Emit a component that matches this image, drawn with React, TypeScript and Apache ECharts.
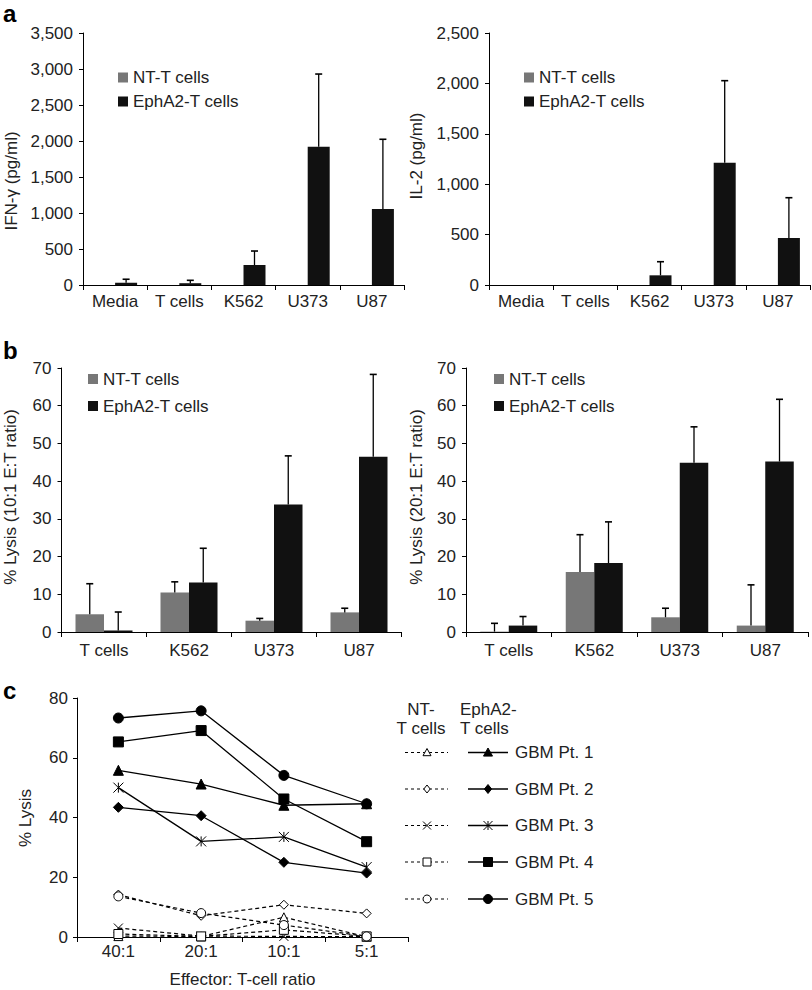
import React, { useEffect, useRef } from 'react';
import * as echarts from 'echarts';

// ---------- Panel a: cytokine release ----------
const cytoCategories = ['Media', 'T cells', 'K562', 'U373', 'U87'];
const ifnNT = [0, 0, 0, 0, 0];
const ifnEph = [32, 25, 278, 1921, 1055];
const ifnEphSD = [48, 40, 194, 1009, 969];
const il2NT = [0, 0, 0, 0, 0];
const il2Eph = [0, 0, 96, 1213, 466];
const il2EphSD = [null, null, 135, 814, 400];

// ---------- Panel b: cytotoxicity ----------
const lysisCategories = ['T cells', 'K562', 'U373', 'U87'];
const lysis10NT = [4.7, 10.5, 3.0, 5.2];
const lysis10NTSD = [8.1, 2.8, 0.6, 1.1];
const lysis10Eph = [0.4, 13.1, 33.8, 46.5];
const lysis10EphSD = [4.9, 9.1, 12.9, 21.8];
const lysis20NT = [0.1, 15.9, 3.9, 1.7];
const lysis20NTSD = [2.2, 9.9, 2.4, 10.8];
const lysis20Eph = [1.7, 18.3, 44.9, 45.2];
const lysis20EphSD = [2.4, 10.9, 9.5, 16.5];

// ---------- Panel c: primary GBM lysis ----------
const ratioCategories = ['40:1', '20:1', '10:1', '5:1'];
const patients = ['GBM Pt. 1', 'GBM Pt. 2', 'GBM Pt. 3', 'GBM Pt. 4', 'GBM Pt. 5'];
const ephPt1 = [55.8, 51.2, 44.1, 44.6];
const ephPt2 = [43.4, 40.6, 25.0, 21.4];
const ephPt3 = [50.0, 32.0, 33.5, 23.4];
const ephPt4 = [65.3, 69.1, 46.2, 31.9];
const ephPt5 = [73.3, 75.7, 54.1, 44.6];
const ntPt1 = [0.3, 0.2, 6.6, 0.1];
const ntPt2 = [14.2, 7.1, 10.8, 7.9];
const ntPt3 = [3.0, 0.3, 0.2, 0.1];
const ntPt4 = [1.0, 0.2, 2.4, 0.2];
const ntPt5 = [13.6, 8.0, 4.0, 0.2];
const ephLysis = [ephPt1, ephPt2, ephPt3, ephPt4, ephPt5];
const ntLysis = [ntPt1, ntPt2, ntPt3, ntPt4, ntPt5];

const FONT = 'Liberation Sans, Arial, sans-serif';
const TXT = '#222';
const NT_COLOR = '#777';
const EPH_COLOR = '#111';

const STAR = 'path://M0,0L10,10M10,0L0,10M5,0L5,10';
const CROSS = 'path://M0,0L10,10M10,0L0,10';
const kinds = ['triangle', 'diamond', 'cross', 'rect', 'circle'];
const ephSymbols = ['triangle', 'diamond', STAR, 'rect', 'circle'];
const ntSymbols = ['triangle', 'diamond', CROSS, 'rect', 'circle'];

function catAxis(gridIndex: number, data: string[], margin: number, extra: any = {}) {
  return {
    type: 'category',
    gridIndex,
    data,
    axisLine: { show: true, lineStyle: { color: '#000', width: 1 } },
    axisTick: { show: true, length: 5, lineStyle: { color: '#000', width: 1 } },
    axisLabel: { color: TXT, fontSize: 17, fontFamily: FONT, margin },
    splitLine: { show: false },
    ...extra,
  };
}

function valAxis(gridIndex: number, max: number, interval: number, margin: number, comma = false) {
  return {
    type: 'value',
    gridIndex,
    min: 0,
    max,
    interval,
    axisLine: { show: true, lineStyle: { color: '#000', width: 1 } },
    axisTick: { show: true, length: 4, lineStyle: { color: '#000', width: 1 } },
    axisLabel: {
      color: TXT,
      fontSize: 17,
      fontFamily: FONT,
      margin,
      formatter: comma ? (v: number) => v.toLocaleString('en-US') : undefined,
    },
    splitLine: { show: false },
  };
}

function barSeries(idx: number, name: string, data: number[], width: number, color: string) {
  return {
    type: 'bar',
    name,
    xAxisIndex: idx,
    yAxisIndex: idx,
    data,
    barWidth: width,
    barGap: '0%',
    itemStyle: { color },
    z: 2,
  };
}

function errSeries(idx: number, values: number[], sds: (number | null)[], offset: number) {
  const data: number[][] = [];
  values.forEach((v, i) => {
    const sd = sds[i];
    if (sd != null) data.push([i, v, v + sd]);
  });
  return {
    type: 'custom',
    name: 'err' + idx + offset,
    xAxisIndex: idx,
    yAxisIndex: idx,
    data,
    encode: { x: 0, y: 1 },
    z: 3,
    renderItem: (params: any, api: any) => {
      const i = api.value(0);
      const p0 = api.coord([i, api.value(1)]);
      const p1 = api.coord([i, api.value(2)]);
      const x = p0[0] + offset;
      return {
        type: 'group',
        children: [
          { type: 'line', shape: { x1: x, y1: p0[1], x2: x, y2: p1[1] }, style: { stroke: '#000', lineWidth: 1.3 } },
          { type: 'line', shape: { x1: x - 3.5, y1: p1[1], x2: x + 3.5, y2: p1[1] }, style: { stroke: '#000', lineWidth: 1.6 } },
        ],
      };
    },
  };
}

function markerShapes(kind: string, cx: number, cy: number, s: number, filled: boolean) {
  const st = { fill: filled ? '#000' : '#fff', stroke: '#000', lineWidth: 1 };
  const h = s / 2;
  const z = 101;
  switch (kind) {
    case 'triangle':
      return [{ type: 'polygon', z, shape: { points: [[cx, cy - h], [cx + h, cy + h * 0.8], [cx - h, cy + h * 0.8]] }, style: st }];
    case 'diamond':
      return [{ type: 'polygon', z, shape: { points: [[cx, cy - h], [cx + h * 0.8, cy], [cx, cy + h], [cx - h * 0.8, cy]] }, style: st }];
    case 'rect':
      return [{ type: 'rect', z, shape: { x: cx - h, y: cy - h, width: s, height: s }, style: st }];
    case 'circle':
      return [{ type: 'circle', z, shape: { cx, cy, r: h }, style: st }];
    default: {
      const ls = { stroke: '#000', lineWidth: 1 };
      const arr: any[] = [
        { type: 'line', z, shape: { x1: cx - h, y1: cy - h, x2: cx + h, y2: cy + h }, style: ls },
        { type: 'line', z, shape: { x1: cx + h, y1: cy - h, x2: cx - h, y2: cy + h }, style: ls },
      ];
      if (filled) arr.push({ type: 'line', z, shape: { x1: cx, y1: cy - h, x2: cx, y2: cy + h }, style: ls });
      return arr;
    }
  }
}

function buildOption() {
  const legendBase = {
    orient: 'vertical',
    icon: 'rect',
    itemWidth: 10,
    itemHeight: 10,
    padding: 0,
    selectedMode: false,
    data: ['NT-T cells', 'EphA2-T cells'],
    textStyle: { fontSize: 17, color: TXT, fontFamily: FONT, lineHeight: 17 },
  };

  const lineSeries: any[] = [];
  patients.forEach((p, k) => {
    lineSeries.push({
      type: 'line',
      name: 'NT ' + p,
      xAxisIndex: 4,
      yAxisIndex: 4,
      data: ntLysis[k],
      symbol: ntSymbols[k],
      symbolSize: 9,
      showAllSymbol: true,
      lineStyle: { color: '#000', width: 1.2, type: [4, 3] },
      itemStyle: { color: '#fff', borderColor: '#000', borderWidth: 1 },
      z: 3,
    });
  });
  patients.forEach((p, k) => {
    lineSeries.push({
      type: 'line',
      name: p,
      xAxisIndex: 4,
      yAxisIndex: 4,
      data: ephLysis[k],
      symbol: ephSymbols[k],
      symbolSize: 10,
      showAllSymbol: true,
      lineStyle: { color: '#000', width: 1.3 },
      itemStyle: { color: '#000', borderColor: '#000', borderWidth: 1 },
      z: 4,
    });
  });

  const rowsY = [752.5, 789, 825.5, 862, 899];
  const legendGraphics: any[] = [];
  patients.forEach((p, k) => {
    const y = rowsY[k];
    legendGraphics.push({ type: 'line', z: 100, shape: { x1: 405, y1: y, x2: 448, y2: y }, style: { stroke: '#000', lineWidth: 1, lineDash: [3, 3] } });
    legendGraphics.push(...markerShapes(kinds[k], 427, y, 8, false));
    legendGraphics.push({ type: 'line', z: 100, shape: { x1: 468, y1: y, x2: 508, y2: y }, style: { stroke: '#000', lineWidth: 1.3 } });
    legendGraphics.push(...markerShapes(kinds[k], 488, y, 9, true));
    legendGraphics.push({ type: 'text', x: 515, y, style: { text: p, fontSize: 17, fontFamily: FONT, fill: TXT, align: 'left', verticalAlign: 'middle' } });
  });

  const t = (text: string, x: number, y: number, extra: any = {}) => ({
    type: 'text',
    x,
    y,
    ...extra,
    style: { text, fontSize: 17, fontFamily: FONT, fill: TXT, align: 'center', verticalAlign: 'middle', ...(extra.style || {}) },
  });
  const rot = { rotation: Math.PI / 2 };

  return {
    animation: false,
    backgroundColor: '#fff',
    textStyle: { fontFamily: FONT, color: TXT },
    grid: [
      { left: 83, top: 33, width: 321, height: 252 },
      { left: 489, top: 33, width: 321, height: 252 },
      { left: 61.5, top: 368, width: 340, height: 264 },
      { left: 466, top: 368, width: 342, height: 264 },
      { left: 77, top: 698, width: 331, height: 239 },
    ],
    xAxis: [
      catAxis(0, cytoCategories, 7.5),
      catAxis(1, cytoCategories, 7.5),
      catAxis(2, lysisCategories, 9.5),
      catAxis(3, lysisCategories, 9.5),
      catAxis(4, ratioCategories, 6, {
        name: 'Effector: T-cell ratio',
        nameLocation: 'middle',
        nameGap: 34,
        nameTextStyle: { fontSize: 17, color: TXT, fontFamily: FONT },
      }),
    ],
    yAxis: [
      valAxis(0, 3500, 500, 10, true),
      valAxis(1, 2500, 500, 10, true),
      valAxis(2, 70, 10, 10),
      valAxis(3, 70, 10, 10),
      valAxis(4, 80, 20, 9),
    ],
    legend: [
      { ...legendBase, left: 118, top: 69, itemGap: 7 },
      { ...legendBase, left: 524, top: 69, itemGap: 7 },
      { ...legendBase, left: 88, top: 370.5, itemGap: 10 },
      { ...legendBase, left: 494, top: 370.5, itemGap: 10 },
    ],
    series: [
      barSeries(0, 'NT-T cells', ifnNT, 22, NT_COLOR),
      barSeries(0, 'EphA2-T cells', ifnEph, 22, EPH_COLOR),
      errSeries(0, ifnEph, ifnEphSD, 11),
      barSeries(1, 'NT-T cells', il2NT, 22, NT_COLOR),
      barSeries(1, 'EphA2-T cells', il2Eph, 22, EPH_COLOR),
      errSeries(1, il2Eph, il2EphSD, 11),
      barSeries(2, 'NT-T cells', lysis10NT, 28.5, NT_COLOR),
      barSeries(2, 'EphA2-T cells', lysis10Eph, 28.5, EPH_COLOR),
      errSeries(2, lysis10NT, lysis10NTSD, -14.25),
      errSeries(2, lysis10Eph, lysis10EphSD, 14.25),
      barSeries(3, 'NT-T cells', lysis20NT, 28.5, NT_COLOR),
      barSeries(3, 'EphA2-T cells', lysis20Eph, 28.5, EPH_COLOR),
      errSeries(3, lysis20NT, lysis20NTSD, -14.25),
      errSeries(3, lysis20Eph, lysis20EphSD, 14.25),
      ...lineSeries,
    ],
    graphic: [
      t('a', 3, 13.5, { style: { fontSize: 24, fontWeight: 'bold', fill: '#000', align: 'left' } }),
      t('b', 3, 350, { style: { fontSize: 24, fontWeight: 'bold', fill: '#000', align: 'left' } }),
      t('c', 3, 690.5, { style: { fontSize: 24, fontWeight: 'bold', fill: '#000', align: 'left' } }),
      t('IFN-γ (pg/ml)', 11, 181, rot),
      t('IL-2 (pg/ml)', 416, 156, rot),
      t('% Lysis (10:1 E:T ratio)', 10, 497, rot),
      t('% Lysis (20:1 E:T ratio)', 416, 497, rot),
      t('% Lysis', 25, 818, rot),
      t('NT-', 421, 709),
      t('T cells', 421, 728),
      t('EphA2-', 460, 709, { style: { align: 'left' } }),
      t('T cells', 460, 728, { style: { align: 'left' } }),
      ...legendGraphics,
    ],
  };
}

export default function App() {
  const ref = useRef<HTMLDivElement>(null);
  useEffect(() => {
    document.body.style.margin = '0';
    const chart = echarts.init(ref.current as HTMLDivElement, null, { renderer: 'svg' });
    chart.setOption(buildOption() as any);
    return () => chart.dispose();
  }, []);
  return <div ref={ref} style={{ width: 812, height: 990 }} />;
}
